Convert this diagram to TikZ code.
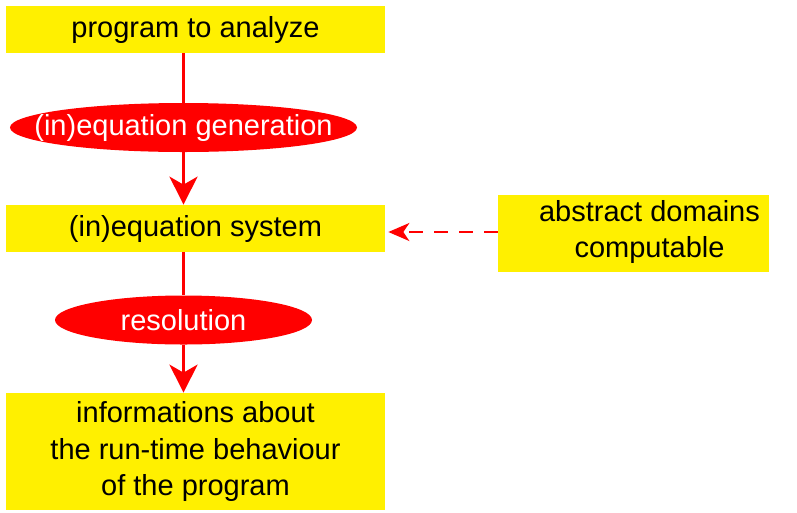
\documentclass[tikz,border=0pt]{standalone}
\usepackage{fontspec}
\setmainfont{Liberation Sans}
\usepackage{xcolor}
\usetikzlibrary{shapes,arrows.meta,positioning,calc}

\definecolor{boxyellow}{RGB}{255,240,0}
\definecolor{flowred}{RGB}{255,0,0}

\begin{document}
\begin{tikzpicture}[
    box/.style={fill=boxyellow, inner sep=0pt, minimum width=7.58cm, align=center,
        font=\fontsize{16.5}{20.8}\selectfont},
    stage/.style={ellipse, fill=flowred, inner sep=0pt, minimum height=0.98cm,
        text=white, font=\fontsize{16.5}{20.8}\selectfont},
    flow/.style={draw=flowred, line width=1.7pt},
    flowarrow/.style={flow, -{Stealth[length=0.56cm, width=0.56cm, inset=0.16cm]}},
    hint/.style={draw=flowred, line width=1.2pt, dash pattern=on 0.28cm off 0.22cm,
        -{Stealth[length=0.42cm, width=0.36cm, inset=0.12cm]}}
]
    \useasboundingbox (0,0) rectangle (15.94,-10.24);

    % Program and (in)equation generation
    \node[box, minimum height=0.94cm] (prog) at (3.91,-0.59) {program to analyze};
    \node[stage, minimum width=6.94cm] (gen) at (3.67,-2.55)
        {\makebox[0pt]{(in)equation generation}};

    % (In)equation system and its resolution
    \node[box, minimum height=0.94cm] (sys) at (3.91,-4.57) {(in)equation system};
    \node[stage, minimum width=5.14cm] (res) at (3.67,-6.4) {\makebox[0pt]{resolution}};

    % Result
    \node[box, minimum height=2.34cm] (info) at (3.91,-9.03)
        {informations about\\the run-time behaviour\\of the program};

    % Abstract domains
    \node[box, minimum width=5.42cm, minimum height=1.54cm] (dom) at (12.67,-4.67) {};
    \node[font=\fontsize{16.5}{20.8}\selectfont, align=center, inner sep=0pt]
        (domtext) at ([xshift=0.32cm, yshift=0.03cm]dom.center) {abstract domains\\computable};

    % Connectors
    \draw[flow] (prog.south -| gen) -- (gen);
    \draw[flowarrow] (gen) -- (sys.north -| gen);
    \draw[flow] (sys.south -| res) -- (res);
    \draw[flowarrow] (res) -- (info.north -| res);
    \draw[hint] (dom.west |- 0,-4.64) -- ([xshift=0.06cm]sys.east |- 0,-4.64);
\end{tikzpicture}
\end{document}
